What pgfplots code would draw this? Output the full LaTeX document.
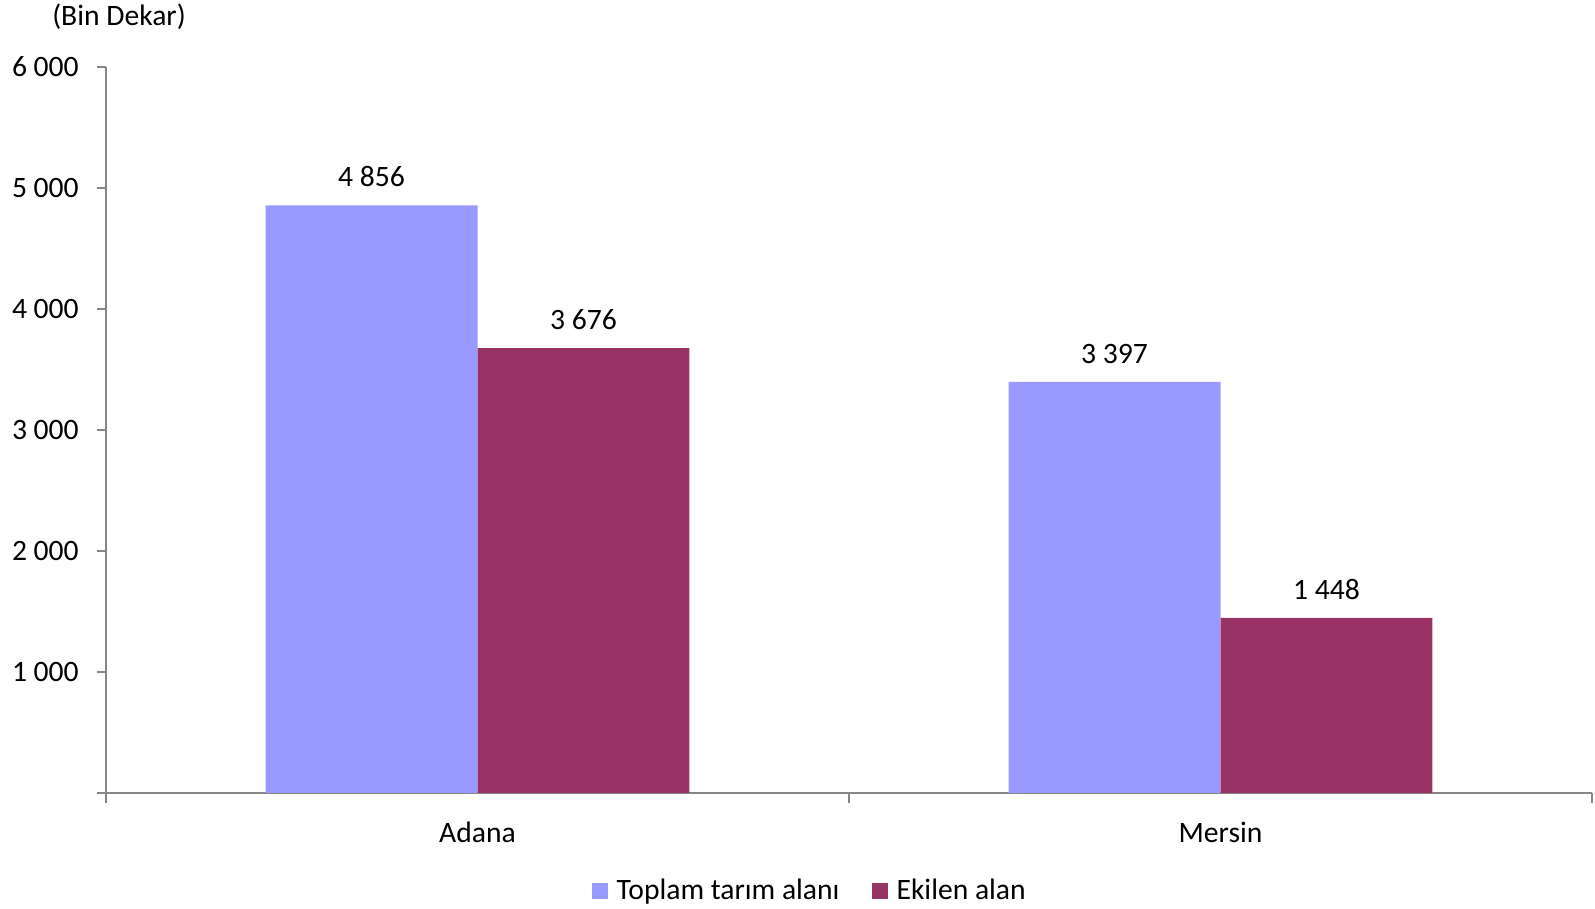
\documentclass[border=0pt]{standalone}
\usepackage{pgfplots}
\pgfplotsset{compat=1.18}
\usepackage{fontspec}
\setmainfont{Carlito}
\definecolor{cLight}{HTML}{9999FF}
\definecolor{cDark}{HTML}{993366}
\definecolor{cAxis}{HTML}{868686}
\newcommand{\chartfont}{\fontsize{14.8pt}{17pt}\selectfont}
\begin{document}
\chartfont
\begin{tikzpicture}
\useasboundingbox (0,0) rectangle (797.5pt,454.5pt);
\begin{axis}[
  at={(53pt,58pt)}, anchor=south west,
  scale only axis, width=743pt, height=363pt,
  xmin=-0.5, xmax=1.5, ymin=0, ymax=6000,
  axis x line*=bottom, axis y line*=left,
  axis line style={cAxis, line width=0.75pt, -},
  every tick/.style={cAxis, line width=0.75pt},
  tick align=outside,
  major tick length=4.5pt, minor tick length=5pt,
  xtick={0,1}, xticklabels={Adana,Mersin},
  major x tick style={draw=none},
  minor xtick={-0.5,0.5,1.5},
  ytick={0,1000,2000,3000,4000,5000,6000},
  yticklabels={{},{1 000},{2 000},{3 000},{4 000},{5 000},{6 000}},
  /pgf/number format/assume math mode=true,
  /pgf/number format/1000 sep={\ },
  tick label style={font=\chartfont, text=black},
  yticklabel style={xshift=-4pt},
  xticklabel style={yshift=-5pt},
  ybar, bar width=0.2853,
  nodes near coords,
  every node near coord/.append style={font=\chartfont, text=black, yshift=4pt},
  legend columns=2,
  legend style={at={(0.3225,-0.135)}, anchor=west, draw=none, fill=none,
    font=\chartfont,
    /tikz/every even column/.append style={column sep=14pt}},
  legend image code/.code={\path[#1,draw=none] (0pt,-4pt) rectangle (8pt,4pt); \path (10.5pt,0pt);},
  clip=false,
]
\addplot[fill=cLight, draw=none, bar shift=-0.14265] coordinates {(0,4856) (1,3397)};
\addplot[fill=cDark, draw=none, bar shift=0.14265] coordinates {(0,3676) (1,1448)};
\legend{Toplam tarım alanı, Ekilen alan}
\end{axis}
\node at (59.5pt,446pt) {(Bin Dekar)};
\end{tikzpicture}
\end{document}
